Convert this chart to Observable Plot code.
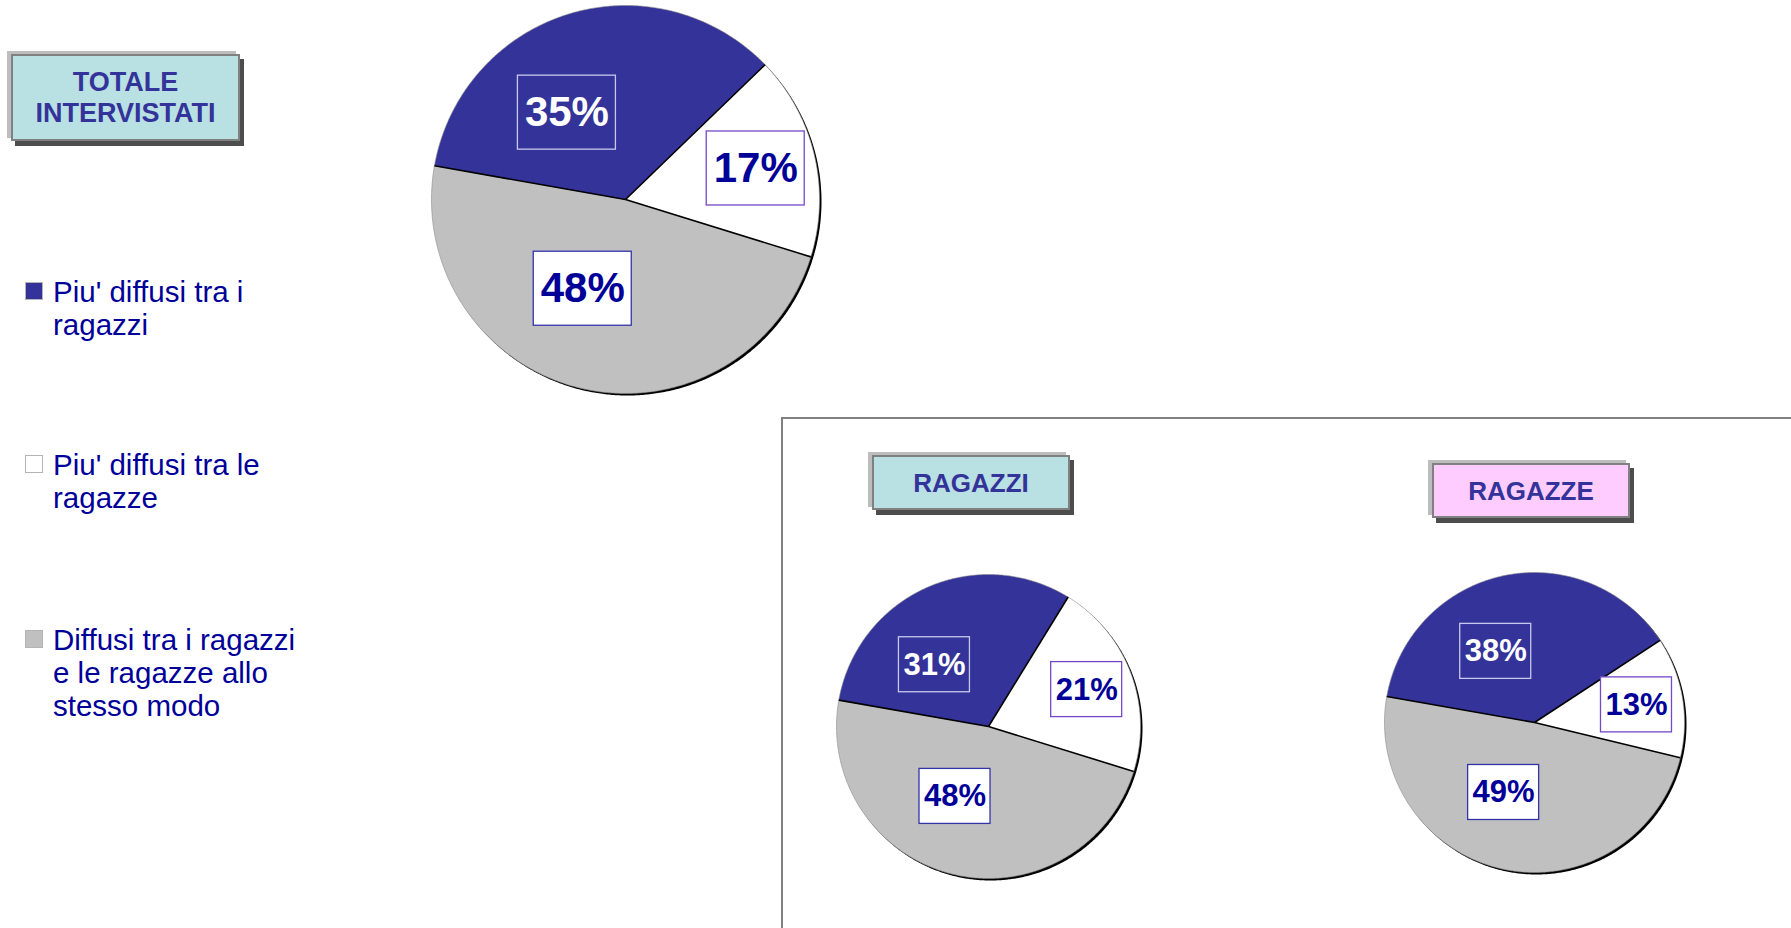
<!DOCTYPE html>
<html>
<head>
<meta charset="utf-8">
<script src="https://cdn.jsdelivr.net/npm/d3@7"></script>
<script src="https://cdn.jsdelivr.net/npm/@observablehq/plot@0.6"></script>
<style>
  html, body { margin: 0; padding: 0; background: #ffffff; }
  body { font-family: "Liberation Sans", Arial, Helvetica, sans-serif; }
  #page { position: relative; width: 1791px; height: 928px; overflow: hidden; background: #fff; }
  .abs { position: absolute; }
  .tbox {
    position: absolute; box-sizing: border-box;
    border: 2px solid #808080;
    box-shadow: 4px 5px 0 #4d4d4d, -4px -3px 0 #bdbdbd;
    display: flex; align-items: center; justify-content: center;
    text-align: center; font-weight: bold; color: #333399;
  }
  .frame { position: absolute; box-sizing: border-box; border: 2px solid #808080; }
  .legend-item { position: absolute; left: 25px; width: 300px; }
  .legend-item .sw { position: absolute; left: 0; width: 18px; height: 18px; box-sizing: border-box; border: 1px solid #b4b4b4; }
  .legend-item .lb { position: absolute; left: 28px; width: 262px; font-size: 29.5px; line-height: 33px; color: #000099; }
  .pie svg { overflow: visible; }
</style>
</head>
<body>
<div id="page"></div>
<script>
// ---------------- data ----------------
const categories = [
  "Piu' diffusi tra i ragazzi",
  "Piu' diffusi tra le ragazze",
  "Diffusi tra i ragazzi e le ragazze allo stesso modo"
];
const panelTitles = ["TOTALE INTERVISTATI", "RAGAZZI", "RAGAZZE"];
const totaleValues  = [35, 17, 48];
const ragazziValues = [31, 21, 48];
const ragazzeValues = [38, 13, 49];

// ---------------- styles ----------------
const sliceColors = ["#333399", "#ffffff", "#c0c0c0"];
const boxFills    = ["none", "#ffffff", "#ffffff"];
const boxStrokes  = ["#c8c8ee", "#7448c8", "#3434a8"];
const textColors  = ["#ffffff", "#000099", "#000099"];
const startAngle = -80;                 // degrees, clockwise from 12 o'clock
const labelAngleOffset = [-17, 0, 12];  // degrees from slice middle
const labelRadius = [0.54, 0.69, 0.51]; // fraction of radius

const page = document.getElementById("page");

// frame around the two sub-pies
const frame = document.createElement("div");
frame.className = "frame";
Object.assign(frame.style, {left: "781px", top: "417px", width: "1200px", height: "700px"});
page.appendChild(frame);

// title boxes
function titleBox(html, left, top, w, h, bg, fs, lh) {
  const d = document.createElement("div");
  d.className = "tbox";
  Object.assign(d.style, {left: left + "px", top: top + "px", width: w + "px", height: h + "px",
    background: bg, fontSize: fs + "px", lineHeight: lh + "px"});
  d.innerHTML = "<div>" + html + "</div>";
  page.appendChild(d);
}
titleBox(panelTitles[0].replace(" ", "<br>"), 11, 54, 229, 87, "#b9e0e3", 27, 31);
titleBox(panelTitles[1], 872, 455, 198, 55, "#b9e0e3", 26, 30);
titleBox(panelTitles[2], 1432, 463, 198, 55, "#ffccff", 26, 30);

// legend
const legendTops = [275, 448, 623];
categories.forEach((c, i) => {
  const it = document.createElement("div");
  it.className = "legend-item";
  it.style.top = legendTops[i] + "px";
  const sw = document.createElement("div");
  sw.className = "sw";
  sw.style.top = "7px";
  sw.style.background = sliceColors[i];
  const lb = document.createElement("div");
  lb.className = "lb";
  lb.style.top = "0px";
  lb.textContent = c;
  it.appendChild(sw); it.appendChild(lb);
  page.appendChild(it);
});

// pies
const rad = a => a * Math.PI / 180;
function drawPie(values, {cx, cy, R, fontSize, boxW, boxH}) {
  const pad = 8;
  const total = d3.sum(values);
  let acc = startAngle;
  const slices = values.map((v, i) => {
    const a0 = acc, a1 = acc + v / total * 360;
    acc = a1;
    const am = rad((a0 + a1) / 2 + labelAngleOffset[i]);
    return {i, cat: categories[i], v, a0, a1,
            lx: labelRadius[i] * Math.sin(am), ly: labelRadius[i] * Math.cos(am)};
  });
  const pts = [];
  for (const s of slices) {
    pts.push({cat: s.cat, x: 0, y: 0});
    const n = Math.max(4, Math.ceil((s.a1 - s.a0) * 2));
    for (let k = 0; k <= n; k++) {
      const a = rad(s.a0 + (s.a1 - s.a0) * k / n);
      pts.push({cat: s.cat, x: Math.sin(a), y: Math.cos(a)});
    }
    pts.push({cat: s.cat, x: 0, y: 0});
  }
  const ring = d3.range(0, 721).map(k => ({x: Math.sin(rad(k / 2)), y: Math.cos(rad(k / 2))}));
  const hw = boxW / 2 / R, hh = boxH / 2 / R;
  const marks = [
    Plot.line(ring, {x: "x", y: "y", fill: "#000000", stroke: "none", dx: 2, dy: 2}),
    Plot.line(pts, {x: "x", y: "y", z: "cat", fill: "cat", stroke: "none"}),
    Plot.line(ring, {x: "x", y: "y", fill: "none", stroke: "#8a8a8a", strokeWidth: 0.6}),
    Plot.link(slices, {x1: d => 0, y1: d => 0, x2: d => Math.sin(rad(d.a0)), y2: d => Math.cos(rad(d.a0)),
      stroke: "#000000", strokeWidth: 1.6})
  ];
  slices.forEach((s, i) => {
    const sub = [s];
    marks.push(Plot.rect(sub, {x1: d => d.lx - hw, x2: d => d.lx + hw, y1: d => d.ly - hh, y2: d => d.ly + hh,
      fill: boxFills[i], stroke: boxStrokes[i], strokeWidth: 1.3}));
    marks.push(Plot.text(sub, {x: "lx", y: "ly", text: d => d.v + "%", fill: textColors[i],
      fontSize, fontWeight: "bold", fontFamily: "Liberation Sans, Arial, sans-serif",
      textAnchor: "middle", lineAnchor: "middle"}));
  });
  const size = 2 * R + 2 * pad;
  const svg = Plot.plot({
    width: size, height: size, margin: pad,
    x: {domain: [-1, 1], axis: null},
    y: {domain: [-1, 1], axis: null},
    color: {domain: categories, range: sliceColors},
    style: {background: "none", overflow: "visible"},
    marks
  });
  const wrap = document.createElement("div");
  wrap.className = "abs pie";
  wrap.style.left = (cx - R - pad) + "px";
  wrap.style.top = (cy - R - pad) + "px";
  wrap.appendChild(svg);
  page.appendChild(wrap);
}

drawPie(totaleValues,  {cx: 625,  cy: 199, R: 194, fontSize: 42, boxW: 98, boxH: 74});
drawPie(ragazziValues, {cx: 988,  cy: 726, R: 152, fontSize: 31, boxW: 71, boxH: 55});
drawPie(ragazzeValues, {cx: 1534, cy: 722, R: 150, fontSize: 31, boxW: 71, boxH: 55});
</script>
</body>
</html>
